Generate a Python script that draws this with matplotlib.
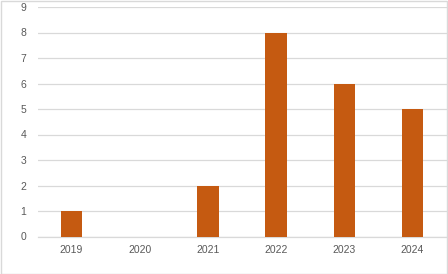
import matplotlib.pyplot as plt
from matplotlib.patches import Rectangle

years = ['2019', '2020', '2021', '2022', '2023', '2024']
counts = [1, 0, 2, 8, 6, 5]

plt.rcParams['font.family'] = ['Liberation Sans', 'DejaVu Sans']

fig = plt.figure(figsize=(4.48, 2.74), dpi=100)
ax = fig.add_axes([37.5 / 448, 37.5 / 274, 409 / 448, 229.5 / 274])

ax.bar(range(len(years)), counts, width=0.315, color='#C55A11', zorder=3)

ax.set_xlim(-0.5, len(years) - 0.5)
ax.set_ylim(0, 9)
ax.set_yticks(range(0, 10))
ax.set_xticks(range(len(years)))
ax.set_xticklabels(years)

ax.grid(axis='y', color='#D9D9D9', linewidth=0.9, zorder=0)
for s in ['top', 'right', 'left']:
    ax.spines[s].set_visible(False)
ax.spines['bottom'].set_color('#D9D9D9')
ax.spines['bottom'].set_linewidth(0.9)
ax.tick_params(axis='both', length=0, labelsize=7.5, colors='#595959')
ax.tick_params(axis='y', pad=8)
ax.tick_params(axis='x', pad=6)

# chart border
fig.patches.append(Rectangle((0.5 / 448, 0.5 / 274), 446.5 / 448, 272.5 / 274,
                             transform=fig.transFigure, fill=False,
                             edgecolor='#D9D9D9', linewidth=1))

fig.savefig('out.png', dpi=100)
